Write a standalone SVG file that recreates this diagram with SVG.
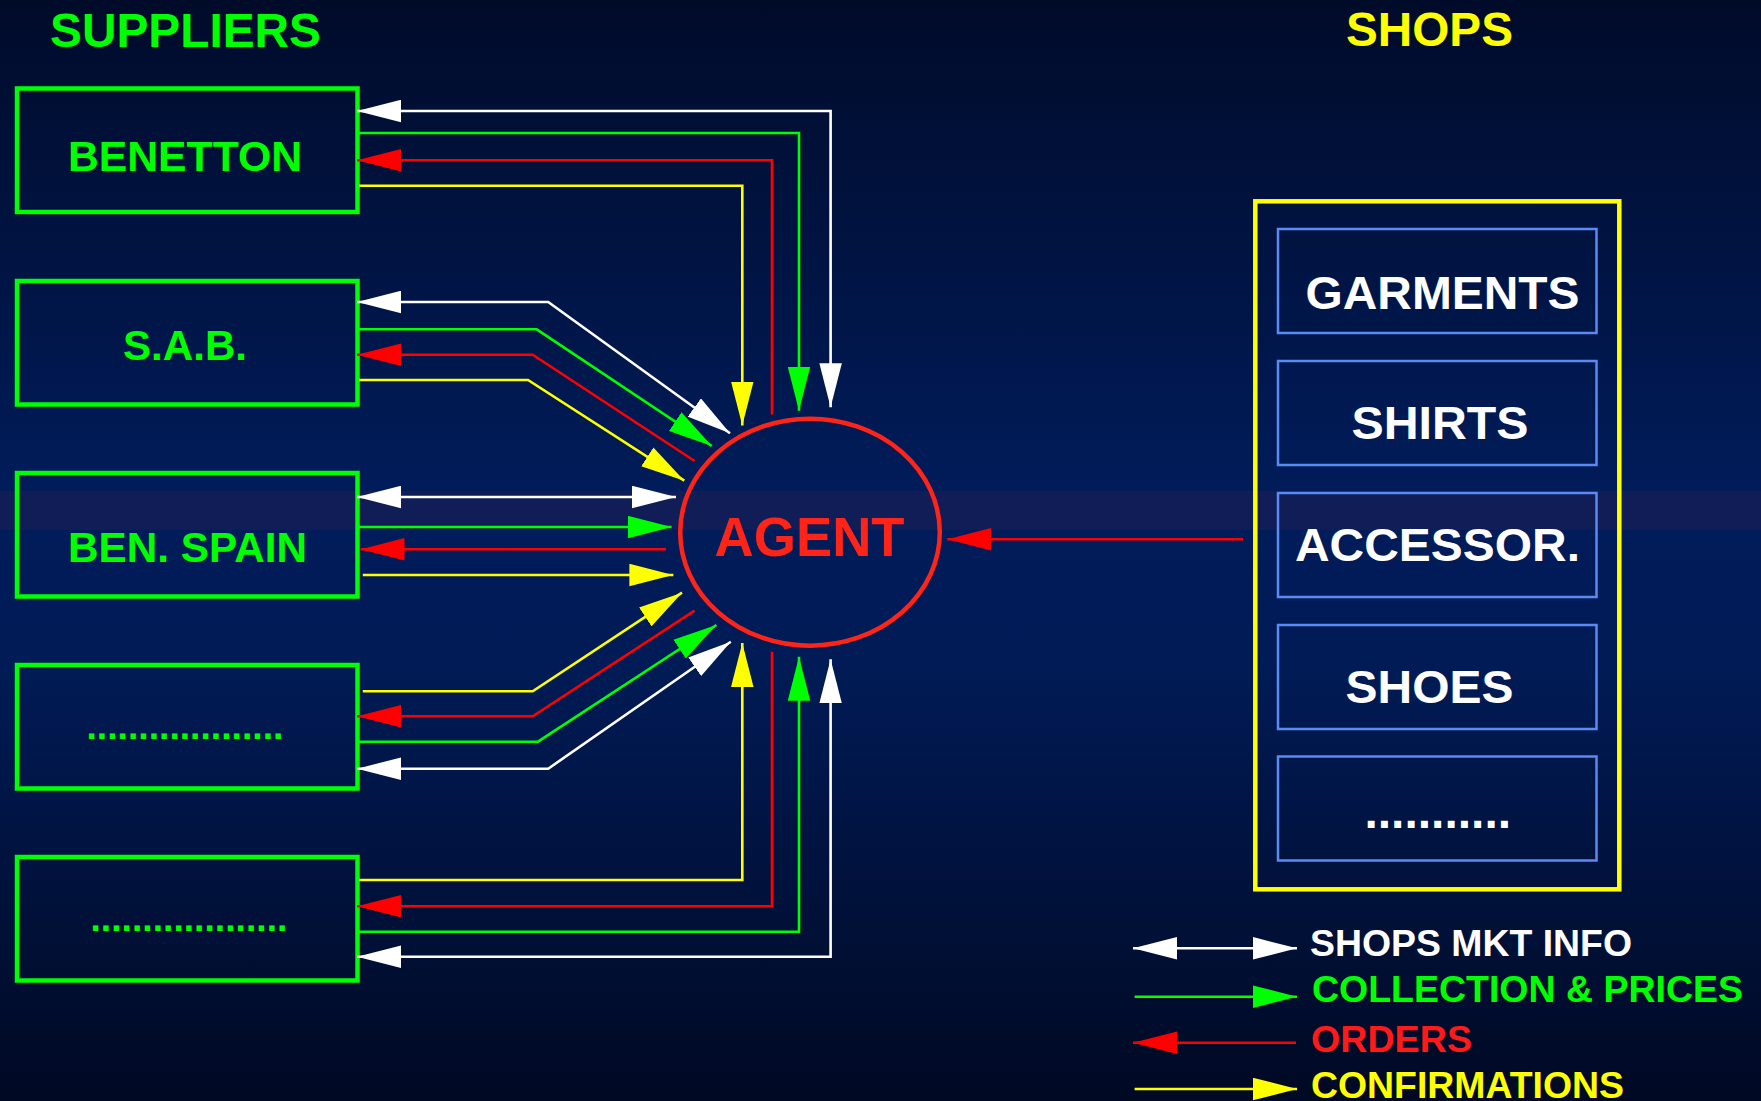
<svg xmlns="http://www.w3.org/2000/svg" width="1761" height="1101" viewBox="0 0 1761 1101">
<defs>
<linearGradient id="bg" x1="0" y1="0" x2="0" y2="1">
<stop offset="0" stop-color="#000b2a"/>
<stop offset="0.45" stop-color="#001c5a"/>
<stop offset="0.6" stop-color="#001b56"/>
<stop offset="1" stop-color="#000923"/>
</linearGradient>
<marker id="aW" markerUnits="userSpaceOnUse" markerWidth="44" markerHeight="23" viewBox="0 0 43 22" refX="43" refY="11" orient="auto-start-reverse"><path d="M0,0 L43,11 L0,22 z" fill="#ffffff"/></marker>
<marker id="aG" markerUnits="userSpaceOnUse" markerWidth="44" markerHeight="23" viewBox="0 0 43 22" refX="43" refY="11" orient="auto-start-reverse"><path d="M0,0 L43,11 L0,22 z" fill="#00ff00"/></marker>
<marker id="aR" markerUnits="userSpaceOnUse" markerWidth="44" markerHeight="23" viewBox="0 0 43 22" refX="43" refY="11" orient="auto-start-reverse"><path d="M0,0 L43,11 L0,22 z" fill="#ff0000"/></marker>
<marker id="aY" markerUnits="userSpaceOnUse" markerWidth="44" markerHeight="23" viewBox="0 0 43 22" refX="43" refY="11" orient="auto-start-reverse"><path d="M0,0 L43,11 L0,22 z" fill="#ffff00"/></marker>
</defs>
<style>
text { font-family: "Liberation Sans", Arial, sans-serif; font-weight: bold; }
.sup { fill: none; stroke: #00ff00; stroke-width: 4.5; }
.shopbox { fill: none; stroke: #ffff00; stroke-width: 4.5; }
.cat { fill: none; stroke: #5a8af2; stroke-width: 2.5; }
.gt { fill: #00ff00; font-size: 42px; }
.wt { fill: #ffffff; font-size: 47px; }
.lg { font-size: 37px; }
.c { fill: none; stroke-width: 2.6; stroke-linejoin: miter; }
.w { stroke: #ffffff; }
.g { stroke: #00ff00; }
.r { stroke: #ff0000; }
.y { stroke: #ffff00; }
.w2 { marker-start: url(#aW); marker-end: url(#aW); }
.ge { marker-end: url(#aG); }
.rs { marker-start: url(#aR); }
.ye { marker-end: url(#aY); }
</style>
<rect x="0" y="0" width="1761" height="1101" fill="url(#bg)"/>
<rect x="0" y="491" width="1761" height="39" fill="#111d57"/>

<text x="50" y="46.5" font-size="48" fill="#00ff00" textLength="271" lengthAdjust="spacingAndGlyphs">SUPPLIERS</text>
<text x="1346" y="45.7" font-size="47.5" fill="#ffff00" textLength="167" lengthAdjust="spacingAndGlyphs">SHOPS</text>

<g id="benetton">
<rect class="sup" x="17" y="88.5" width="340.5" height="123.5"/>
<text class="gt" x="68" y="171" textLength="234" lengthAdjust="spacingAndGlyphs">BENETTON</text>
</g>
<g id="sab">
<rect class="sup" x="17" y="281" width="340.5" height="123.5"/>
<text class="gt" x="123" y="360" textLength="124" lengthAdjust="spacingAndGlyphs">S.A.B.</text>
</g>
<g id="benspain">
<rect class="sup" x="17" y="473" width="340.5" height="123.5"/>
<text class="gt" x="68" y="561.7" textLength="239" lengthAdjust="spacingAndGlyphs">BEN. SPAIN</text>
</g>
<g id="supplier4">
<rect class="sup" x="17" y="665" width="340.5" height="123.5"/>
<text x="86.5" y="739" font-size="37.3" fill="#00ff00">...................</text>
</g>
<g id="supplier5">
<rect class="sup" x="17" y="857" width="340.5" height="123.5"/>
<text x="90.5" y="931" font-size="37.3" fill="#00ff00">...................</text>
</g>

<g id="agent">
<ellipse cx="810" cy="532.2" rx="129.8" ry="113.5" fill="none" stroke="#ff2418" stroke-width="4.5"/>
<text x="714.5" y="556" font-size="55" fill="#ff2418" textLength="190" lengthAdjust="spacingAndGlyphs">AGENT</text>
</g>

<g id="shops">
<rect class="shopbox" x="1255.3" y="201.3" width="364" height="688"/>
<g id="garments"><rect class="cat" x="1278" y="229" width="318.5" height="104"/>
<text class="wt" x="1305.5" y="308.6" textLength="274" lengthAdjust="spacingAndGlyphs">GARMENTS</text></g>
<g id="shirts"><rect class="cat" x="1278" y="361" width="318.5" height="104"/>
<text class="wt" x="1351.5" y="439.4" textLength="177" lengthAdjust="spacingAndGlyphs">SHIRTS</text></g>
<g id="accessories"><rect class="cat" x="1278" y="493" width="318.5" height="104"/>
<text class="wt" x="1295" y="561" textLength="285" lengthAdjust="spacingAndGlyphs">ACCESSOR.</text></g>
<g id="shoes"><rect class="cat" x="1278" y="625" width="318.5" height="104"/>
<text class="wt" x="1345.5" y="703.4" textLength="168" lengthAdjust="spacingAndGlyphs">SHOES</text></g>
<g id="othershops"><rect class="cat" x="1278" y="756.5" width="318.5" height="104"/>
<text x="1364.4" y="827.7" font-size="48" fill="#ffffff">...........</text></g>
</g>

<g id="connectors">
<!-- Benetton -->
<path class="c w w2" d="M357,111 H830.6 V407.3"/>
<path class="c g ge" d="M359,133 H799 V410.7"/>
<path class="c r rs" d="M357,160.3 H772 V414.5"/>
<path class="c y ye" d="M359,185.7 H742.3 V425.5"/>
<!-- S.A.B. -->
<path class="c w w2" d="M357,302 H548.2 L730,433.3"/>
<path class="c g ge" d="M359,329.3 H536.7 L711.8,446"/>
<path class="c r rs" d="M357,354.7 H532.7 L694.6,461"/>
<path class="c y ye" d="M359,380 H528 L684.3,480.7"/>
<!-- Ben. Spain -->
<path class="c w w2" d="M357,497 H676"/>
<path class="c g ge" d="M359,527 H671.6"/>
<path class="c r rs" d="M360.5,549.3 H666"/>
<path class="c y ye" d="M362.8,575 H673.4"/>
<!-- Supplier 4 -->
<path class="c y ye" d="M362.8,691.3 H532.7 L682,592.7"/>
<path class="c r rs" d="M357,716.3 H532.7 L694.6,610.7"/>
<path class="c g ge" d="M359,741.7 H538 L716.4,625"/>
<path class="c w w2" d="M357,768.7 H548.2 L730.8,641.7"/>
<!-- Supplier 5 -->
<path class="c y ye" d="M359,880 H742.3 V643"/>
<path class="c r rs" d="M357,906.3 H772 V651.7"/>
<path class="c g ge" d="M359,931.7 H799 V656.7"/>
<path class="c w w2" d="M357,956.7 H830.6 V659.3"/>
<!-- Shops to agent -->
<path class="c r" style="marker-end:url(#aR)" d="M1243,539.3 H947.3"/>
</g>

<g id="legend">
<path class="c w w2" d="M1133,948.3 H1297"/>
<text class="lg" x="1310" y="956" fill="#ffffff" textLength="322" lengthAdjust="spacingAndGlyphs">SHOPS MKT INFO</text>
<path class="c g ge" d="M1134.6,996.7 H1297"/>
<text class="lg" x="1312" y="1001.7" fill="#00ff00" textLength="431" lengthAdjust="spacingAndGlyphs">COLLECTION &amp; PRICES</text>
<path class="c r rs" d="M1133,1042.7 H1296"/>
<text class="lg" x="1311" y="1051.7" fill="#ff1a1a" textLength="161" lengthAdjust="spacingAndGlyphs">ORDERS</text>
<path class="c y ye" d="M1134.6,1089 H1297"/>
<text class="lg" x="1311" y="1098.3" fill="#ffff00" textLength="313" lengthAdjust="spacingAndGlyphs">CONFIRMATIONS</text>
</g>
</svg>
